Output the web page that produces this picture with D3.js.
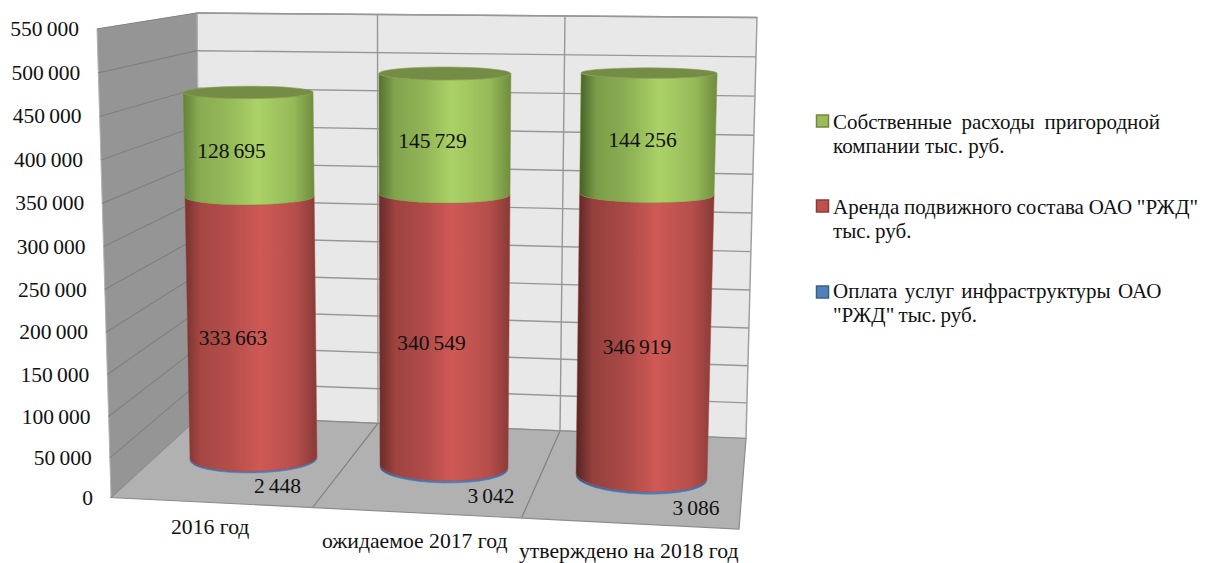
<!DOCTYPE html>
<html>
<head>
<meta charset="utf-8">
<script src="https://cdn.jsdelivr.net/npm/d3@7"></script>
<style>
html,body{margin:0;padding:0;background:#fff;}
svg{display:block;}
text{font-family:"Liberation Serif","Times New Roman",serif;fill:#111;}
</style>
</head>
<body>
<script>
var categories=["2016 год","ожидаемое 2017 год","утверждено на 2018 год"];
var infrastructure=[2448,3042,3086];
var rent=[333663,340549,346919];
var ownCosts=[128695,145729,144256];
var yTicks=[0,50000,100000,150000,200000,250000,300000,350000,400000,450000,500000,550000];
var legendLines=[
	["Собственные расходы пригородной","компании тыс. руб."],
	["Аренда подвижного состава ОАО \"РЖД\"","тыс. руб."],
	["Оплата услуг инфраструктуры ОАО","\"РЖД\" тыс. руб."]
];

var width=1210, height=563, maxVal=550000;
var svg=d3.select("body").append("svg").attr("width",width).attr("height",height);
var defs=svg.append("defs");

// vertical foreshortening, same for walls and cylinders
var h=d3.scalePow().exponent(1.03).domain([0,maxVal]).range([0,1]);
function mix(a,b,t) {return a+(b-a)*t;}

// box corners per category boundary
var backTopX=[197,377.5,565,757], backTopY=[13,14.5,16,17.5];
var backBotX=[200,378,560,746], backBotY=[416,423.4,431,438.5];
var frontX=[111,313,522,739], frontY=[497.5,507,517,529];
var sideTop=[97,29];

function backPt(i,v) {
	var t=h(v);
	return [mix(backBotX[i],backTopX[i],t),mix(backBotY[i],backTopY[i],t)];
}
function sidePt(v) {
	var t=h(v);
	return [mix(frontX[0],sideTop[0],t),mix(frontY[0],sideTop[1],t)];
}
var line=d3.line();

// walls and floor
svg.append("path").attr("d",line([backPt(0,maxVal),backPt(3,maxVal),backPt(3,0),backPt(0,0)])+"Z")
	.attr("fill","#e8e8e8").attr("stroke","#a0a0a0").attr("stroke-width",1.5);
svg.append("path").attr("d",line([sidePt(maxVal),backPt(0,maxVal),backPt(0,0),sidePt(0)])+"Z")
	.attr("fill","#959595").attr("stroke","#b4b4b4").attr("stroke-width",1);
svg.append("path").attr("d",line([sidePt(0),backPt(0,0),backPt(3,0),[frontX[3],frontY[3]]])+"Z")
	.attr("fill","#b1b1b1").attr("stroke","#8c8c8c").attr("stroke-width",1.2);

svg.selectAll(".gridBack").data(yTicks.slice(1)).enter().append("path").attr("class","gridBack")
	.attr("d",function(d) {return line([backPt(0,d),backPt(3,d)]);})
	.attr("fill","none").attr("stroke","#979797").attr("stroke-width",1.4);
svg.selectAll(".gridSide").data(yTicks.slice(1)).enter().append("path").attr("class","gridSide")
	.attr("d",function(d) {return line([sidePt(d),backPt(0,d)]);})
	.attr("fill","none").attr("stroke","#808080").attr("stroke-width",1.2);
svg.selectAll(".gridCol").data([1,2]).enter().append("path").attr("class","gridCol")
	.attr("d",function(d) {return line([backPt(d,maxVal),backPt(d,0)]);})
	.attr("fill","none").attr("stroke","#979797").attr("stroke-width",1.4);
svg.selectAll(".gridFloor").data([1,2]).enter().append("path").attr("class","gridFloor")
	.attr("d",function(d) {return line([backPt(d,0),[frontX[d],frontY[d]]]);})
	.attr("fill","none").attr("stroke","#7f7f7f").attr("stroke-width",1.2);

// cylinder frames: value 0 and value 550000 of each category
var cylX=[[253.5,247],[444,445],[641.5,650]];
var cylY=[[459,23],[468,23],[477.5,26]];
var cylRx=[[63.5,65.3],[64,66.3],[65.5,68.3]];
var cylRy=[[14,4.7],[15,5.4],[16.5,3.9]];
var cylRot=[[-1,0],[1,0],[2.2,0]];
var brightAt=[0.57,0.55,0.58];
var leftShade=[0.72,0.85,1];

function ring(i,v) {
	var t=h(v), rot=mix(cylRot[i][0],cylRot[i][1],t)*Math.PI/180;
	var c=[mix(cylX[i][0],cylX[i][1],t),mix(cylY[i][0],cylY[i][1],t)];
	var rx=mix(cylRx[i][0],cylRx[i][1],t), ry=mix(cylRy[i][0],cylRy[i][1],t);
	return {cx:c[0],cy:c[1],rx:rx,ry:ry,deg:rot*180/Math.PI,
		lx:c[0]-rx*Math.cos(rot),ly:c[1]-rx*Math.sin(rot),
		rxp:c[0]+rx*Math.cos(rot),ryp:c[1]+rx*Math.sin(rot)};
}
function sidePath(a,b) {
	return "M"+b.lx+","+b.ly+"L"+a.lx+","+a.ly+
		"A"+a.rx+","+a.ry+" "+a.deg+" 0 0 "+a.rxp+","+a.ryp+
		"L"+b.rxp+","+b.ryp+
		"A"+b.rx+","+b.ry+" "+b.deg+" 0 1 "+b.lx+","+b.ly+"Z";
}

var series=[
	{key:"blue",values:infrastructure,dark:"#2b4b75",bright:"#4f81bd",right:"#3c6496",edge:"#4f81bd"},
	{key:"red",values:rent,dark:"#552422",bright:"#cf5955",right:"#873a37",edge:"#a64542"},
	{key:"green",values:ownCosts,dark:"#456127",bright:"#abd267",right:"#6f8c3e",edge:"#7e9c45"}
];

function makeGrad(id,s,i) {
	var g=defs.append("linearGradient").attr("id",id).attr("x1",0).attr("x2",1).attr("y1",0).attr("y2",0);
	var toDark=d3.interpolateRgb(s.bright,s.dark), toRight=d3.interpolateRgb(s.bright,s.right);
	g.append("stop").attr("offset",0).attr("stop-color",toDark(leftShade[i]));
	g.append("stop").attr("offset",0.12).attr("stop-color",toDark(leftShade[i]*0.48));
	g.append("stop").attr("offset",0.35).attr("stop-color",toDark(leftShade[i]*0.3));
	g.append("stop").attr("offset",brightAt[i]).attr("stop-color",s.bright);
	g.append("stop").attr("offset",0.84).attr("stop-color",toRight(0.35));
	g.append("stop").attr("offset",1).attr("stop-color",toRight(1));
}

categories.forEach(function(c,i) {
	var base=0;
	series.forEach(function(s) {
		var a=ring(i,base), b=ring(i,base+s.values[i]);
		makeGrad("g"+s.key+i,s,i);
		svg.append("path").attr("class","cyl").attr("d",sidePath(a,b))
			.attr("fill","url(#g"+s.key+i+")")
			.attr("stroke",s.edge).attr("stroke-width",s.key=="blue"?0.6:0.5);
		base+=s.values[i];
	});
	var top=ring(i,base);
	svg.append("ellipse").attr("cx",0).attr("cy",0).attr("rx",top.rx).attr("ry",top.ry)
		.attr("transform","translate("+top.cx+","+top.cy+") rotate("+top.deg+")")
		.attr("fill","#748c45").attr("stroke","#86a24e").attr("stroke-width",0.6);
});

var fmt=function(d) {return d3.format(",")(d).replace(/,/g," ");};

// y axis labels follow the slanted front edge
svg.selectAll(".ytick").data(yTicks).enter().append("text").attr("class","ytick")
	.attr("x",function(d) {return sidePt(d)[0]-18;})
	.attr("y",function(d) {return sidePt(d)[1]+7;})
	.attr("text-anchor","end").attr("font-size",21.5).attr("word-spacing",-1)
	.text(fmt);

// data labels
var labelX=[[277.5,233,231.5],[491,431.5,432.5],[696,637,642.5]];
var labelY=[[493,345,158],[503,350,148],[515,354,147]];
series.forEach(function(s,k) {
	svg.selectAll(".lab"+k).data(s.values).enter().append("text").attr("class","lab"+k)
		.attr("x",function(d,i) {return labelX[i][k];})
		.attr("y",function(d,i) {return labelY[i][k];})
		.attr("text-anchor","middle").attr("font-size",21.5).attr("word-spacing",-1.5)
		.text(fmt);
});

// category labels
var catX=[171,322,519], catY=[534,548,558];
svg.selectAll(".cat").data(categories).enter().append("text").attr("class","cat")
	.attr("x",function(d,i) {return catX[i];})
	.attr("y",function(d,i) {return catY[i];})
	.attr("font-size",21.7)
	.text(function(d) {return d;});

// legend
var legendFill=["#9bbb59","#c0504d","#4f81bd"], legendEdge=["#71893f","#8c3a38","#3a5f8c"];
var legendY=[115,200,286], legendBase=[[129,153],[214,238],[298,322]];
var legendGap=[[4.5,0],[-0.5,-1],[2,-1]];
var legend=svg.selectAll(".leg").data(legendLines).enter().append("g").attr("class","leg");
legend.append("rect").attr("x",816.5).attr("y",function(d,i) {return legendY[i];})
	.attr("width",12).attr("height",12)
	.attr("fill",function(d,i) {return legendFill[i];})
	.attr("stroke",function(d,i) {return legendEdge[i];}).attr("stroke-width",1.5);
legend.each(function(lines,i) {
	d3.select(this).selectAll("text").data(lines).enter().append("text")
		.attr("x",833).attr("y",function(d,j) {return legendBase[i][j];})
		.attr("font-size",21).attr("word-spacing",function(d,j) {return legendGap[i][j];})
		.text(function(d) {return d;});
});
</script>
</body>
</html>
